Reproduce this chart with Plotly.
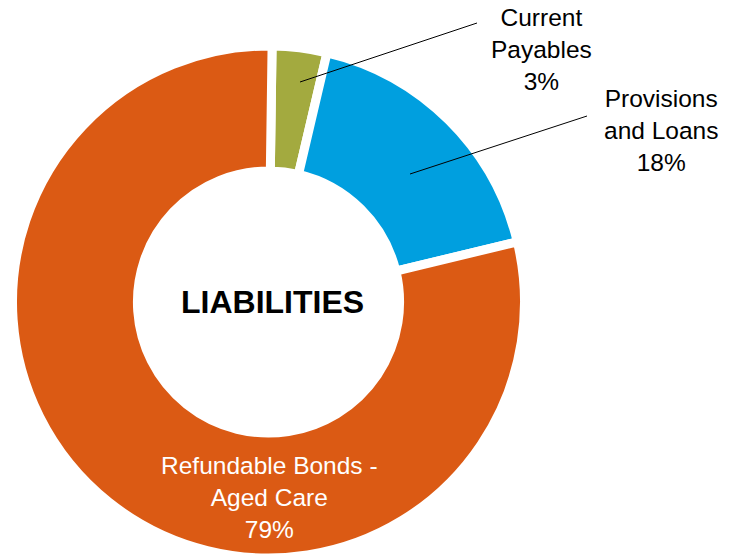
import plotly.graph_objects as go

labels = ["Current Payables", "Provisions and Loans", "Refundable Bonds - Aged Care"]
label_text = ["Current<br>Payables", "Provisions<br>and Loans", "Refundable Bonds -<br>Aged Care"]
values = [3.45, 17.55, 79.0]
colors = ["#A3AA3F", "#009FDF", "#DB5A14"]

W, H = 739, 558
cx, cy, r = 268.5, 302, 256

def px(x):
    return x / W

def py(y):
    return 1 - y / H

total = sum(values)
pct = [f"{round(v / total * 100):.0f}%" for v in values]

fig = go.Figure(go.Pie(
    labels=labels,
    values=values,
    sort=False,
    direction="clockwise",
    rotation=0.8,
    hole=0.512,
    marker=dict(colors=colors, line=dict(color="white", width=9)),
    textinfo="none",
    hoverinfo="label+percent",
    showlegend=False,
    domain=dict(x=[px(cx - r), px(cx + r)], y=[max(0, py(cy + r)), py(cy - r)]),
))

font = "Liberation Sans, Arial, sans-serif"
annots = [
    dict(x=px(541), y=py(50), text=f"{label_text[0]}<br>{pct[0]}", color="black"),
    dict(x=px(661), y=py(131), text=f"{label_text[1]}<br>{pct[1]}", color="black"),
    dict(x=px(269), y=py(497), text=f"{label_text[2]}<br>{pct[2]}", color="white"),
]
fig.update_layout(annotations=[
    dict(x=a["x"], y=a["y"], xref="paper", yref="paper", text=a["text"],
         showarrow=False, xanchor="center", yanchor="middle",
         font=dict(family=font, size=24.5, color=a["color"]), align="center")
    for a in annots
] + [
    dict(x=px(272.5), y=py(302), xref="paper", yref="paper", text="<b>LIABILITIES</b>",
         showarrow=False, xanchor="center", yanchor="middle",
         font=dict(family=font, size=32, color="black"))
])

fig.update_layout(shapes=[
    dict(type="line", xref="paper", yref="paper", x0=px(300), y0=py(82), x1=px(477), y1=py(23),
         line=dict(color="black", width=1)),
    dict(type="line", xref="paper", yref="paper", x0=px(410), y0=py(174), x1=px(587), y1=py(116),
         line=dict(color="black", width=1)),
])

fig.update_layout(width=W, height=H, margin=dict(l=0, r=0, t=0, b=0),
                  paper_bgcolor="white", plot_bgcolor="white")
fig.write_html("out.html")
